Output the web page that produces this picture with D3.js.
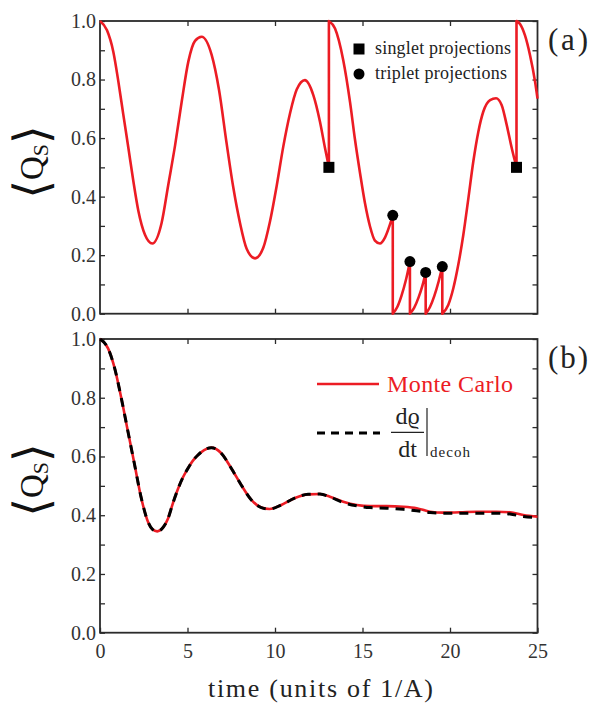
<!DOCTYPE html>
<html><head><meta charset="utf-8">
<script src="https://cdn.jsdelivr.net/npm/d3@7"></script>
<style>
html,body{margin:0;padding:0;background:#fff;}
svg text{font-family:"Liberation Serif","Times New Roman",serif;}
</style></head>
<body><svg id="c" width="592" height="703"></svg>
<script>
// ---------- data ----------
// (a) single quantum trajectory; a repeated time marks a projection jump
const topTime = [0,0.4,0.76,1.05,1.33,1.62,1.90,2.19,2.57,2.99,3.52,3.90,4.29,4.67,5.05,5.43,5.81,6.38,6.80,7.24,7.62,8.00,8.38,8.86,9.33,9.71,10.10,10.47,10.86,11.24,11.71,12.19,12.57,12.86,13.08,
  13.08,13.43,13.90,14.29,14.57,14.86,15.14,15.43,15.71,16.0,16.29,16.57,16.73,
  16.73,16.98,17.23,17.48,17.71,
  17.71,17.95,18.2,18.42,18.61,
  18.61,18.85,19.1,19.35,19.56,
  19.56,19.90,20.19,20.47,20.76,21.05,21.33,21.62,21.90,22.29,22.63,22.95,23.24,23.53,23.80,
  23.80,24.0,24.29,24.57,24.86,25.0];
const topQs = [1.0,0.968,0.895,0.793,0.681,0.567,0.455,0.352,0.270,0.240,0.310,0.440,0.575,0.725,0.862,0.932,0.946,0.884,0.765,0.580,0.430,0.310,0.222,0.189,0.225,0.314,0.438,0.570,0.685,0.766,0.798,0.747,0.656,0.565,0.500,
  1.0,0.974,0.866,0.722,0.595,0.480,0.378,0.298,0.250,0.240,0.261,0.305,0.336,
  0,0.022,0.062,0.115,0.178,
  0,0.02,0.055,0.095,0.141,
  0,0.022,0.06,0.11,0.161,
  0,0.030,0.087,0.166,0.269,0.394,0.519,0.622,0.690,0.730,0.736,0.713,0.645,0.565,0.500,
  1.0,0.990,0.950,0.884,0.793,0.735];
const singletTime = [13.08, 23.80];
const singletQs   = [0.5, 0.5];
const tripletTime = [16.73, 17.71, 18.61, 19.56];
const tripletQs   = [0.336, 0.178, 0.141, 0.161];

// (b) ensemble average
const botTime = [0,0.46,0.84,1.22,1.60,1.98,2.36,2.74,3.0,3.27,3.6,3.89,4.15,4.46,4.75,5.03,5.30,5.60,5.95,6.36,6.93,7.50,8.07,8.65,9.22,9.69,10.36,11.12,11.89,12.57,13.14,13.90,14.67,15.43,16.38,17.33,18.10,18.86,19.62,20.57,21.52,22.67,23.43,24.19,25.0];
const monteCarlo = [1.0,0.968,0.900,0.798,0.684,0.571,0.458,0.378,0.352,0.345,0.358,0.389,0.438,0.490,0.530,0.560,0.585,0.605,0.622,0.630,0.611,0.560,0.503,0.452,0.426,0.421,0.435,0.458,0.471,0.472,0.463,0.446,0.435,0.431,0.431,0.429,0.424,0.412,0.409,0.410,0.412,0.412,0.410,0.401,0.395];
const decoh = [1.0,0.968,0.900,0.798,0.684,0.571,0.458,0.378,0.352,0.345,0.358,0.389,0.438,0.490,0.530,0.560,0.585,0.605,0.622,0.630,0.611,0.560,0.503,0.452,0.426,0.421,0.435,0.458,0.471,0.472,0.462,0.443,0.432,0.426,0.424,0.420,0.415,0.409,0.407,0.407,0.407,0.407,0.404,0.396,0.392];

const yTicks = [0,0.1,0.2,0.3,0.4,0.5,0.6,0.7,0.8,0.9,1.0];
const xTicks = [0,5,10,15,20,25];

// ---------- drawing ----------
const RED = "#ec1c24", INK = "#2b2b2b";
const svg = d3.select("#c");
const x = d3.scaleLinear().domain([0,25]).range([100,537.5]);
const yA = d3.scaleLinear().domain([0,1]).range([313.7,21]);
const yB = d3.scaleLinear().domain([0,1]).range([632.7,339]);

function frame(y, showX){
  const g = svg.append("g");
  const lab = d => (Math.round(d*10)%2===0) ? d3.format(".1f")(d) : "";
  const l = g.append("g").attr("transform",`translate(${x(0)},0)`)
    .call(d3.axisLeft(y).tickValues(yTicks).tickSize(-5).tickPadding(4).tickFormat(lab));
  const r = g.append("g").attr("transform",`translate(${x(25)},0)`)
    .call(d3.axisRight(y).tickValues(yTicks).tickSize(-5).tickFormat(""));
  const t = g.append("g").attr("transform",`translate(0,${y(1)})`)
    .call(d3.axisTop(x).tickValues([5,10,15,20]).tickSize(-5).tickFormat(""));
  const b = g.append("g").attr("transform",`translate(0,${y(0)})`)
    .call(d3.axisBottom(x).tickValues(showX?xTicks:[5,10,15,20]).tickSize(-5).tickPadding(11).tickFormat(showX?d3.format("d"):""));
  [l,r,t,b].forEach(a=>{
    a.select(".domain").remove();
    a.selectAll("line").attr("stroke",INK).attr("stroke-width",1.3);
    a.selectAll("text").attr("fill","#333").style("font-family","'Liberation Serif',serif").style("font-size","20px");
  });
  g.append("rect").attr("x",x(0)).attr("y",y(1)).attr("width",x(25)-x(0)).attr("height",y(0)-y(1))
    .attr("fill","none").attr("stroke",INK).attr("stroke-width",1.8);
  return g;
}

function yLabel(cy){
  const t = svg.append("text").attr("transform",`translate(43,${cy}) rotate(-90)`)
    .attr("text-anchor","middle").attr("fill","#111");
  t.append("tspan").text("\u27E8").style("font-family","'DejaVu Sans'").style("font-size","48px").attr("dy","5");
  t.append("tspan").text("Q").style("font-size","33px").attr("dy","-5");
  t.append("tspan").text("S").style("font-size","22px").attr("dy","5");
  t.append("tspan").text("\u27E9").style("font-family","'DejaVu Sans'").style("font-size","48px").attr("dy","0");
}

// panel (a)
frame(yA,false);
const segs = [];
topTime.forEach((t,i)=>{
  if(i===0 || t===topTime[i-1]) segs.push([]);
  segs[segs.length-1].push([t, topQs[i]]);
});
const lineA = d3.line().x(d=>x(d[0])).y(d=>yA(d[1])).curve(d3.curveMonotoneX);
const dA = segs.map((s,i)=>{ const p=lineA(s); return i===0?p:"L"+p.slice(1); }).join("");
svg.append("path").attr("d",dA).attr("fill","none").attr("stroke",RED).attr("stroke-width",2.6).attr("stroke-linejoin","round");

svg.selectAll(".sq").data(singletTime).enter().append("rect")
  .attr("x",(d)=>x(d)-5.5).attr("y",(d,i)=>yA(singletQs[i])-5.5).attr("width",11).attr("height",11).attr("fill","#000");
svg.selectAll(".ci").data(tripletTime).enter().append("circle")
  .attr("cx",d=>x(d)).attr("cy",(d,i)=>yA(tripletQs[i])).attr("r",5.5).attr("fill","#000");

// legend (a)
svg.append("rect").attr("x",353.5).attr("y",43.5).attr("width",11).attr("height",11).attr("fill","#000");
svg.append("circle").attr("cx",359).attr("cy",74).attr("r",5.5).attr("fill","#000");
svg.append("text").attr("x",375).attr("y",54).text("singlet projections").style("font-size","18px").attr("fill","#222").attr("textLength",136);
svg.append("text").attr("x",375).attr("y",78.5).text("triplet projections").style("font-size","18px").attr("fill","#222").attr("textLength",132);

svg.append("text").attr("x",548).attr("y",50).text("(a)").style("font-size","31px").attr("fill","#222").attr("textLength",40);
yLabel(162);

// panel (b)
frame(yB,true);
const lineB = (arr)=> d3.line().x((d,i)=>x(botTime[i])).y(d=>yB(d)).curve(d3.curveMonotoneX)(arr);
svg.append("path").attr("d",lineB(monteCarlo)).attr("fill","none").attr("stroke",RED).attr("stroke-width",2.6);
svg.append("path").attr("d",lineB(decoh)).attr("fill","none").attr("stroke","#000").attr("stroke-width",3).attr("stroke-dasharray","9,7");

// legend (b)
svg.append("line").attr("x1",317).attr("x2",379).attr("y1",384).attr("y2",384).attr("stroke",RED).attr("stroke-width",2.6);
svg.append("text").attr("x",387).attr("y",392).text("Monte Carlo").style("font-size","24px").attr("fill",RED).attr("textLength",126);
svg.append("line").attr("x1",317).attr("x2",380).attr("y1",433).attr("y2",433).attr("stroke","#000").attr("stroke-width",3).attr("stroke-dasharray","8,6");
svg.append("text").attr("x",407.5).attr("y",424).attr("text-anchor","middle").text("d\u03F1").style("font-size","24px").attr("fill","#222");
svg.append("line").attr("x1",391).attr("x2",424).attr("y1",432.3).attr("y2",432.3).attr("stroke","#222").attr("stroke-width",1.2);
svg.append("text").attr("x",407.5).attr("y",456.5).attr("text-anchor","middle").text("dt").style("font-size","24px").attr("fill","#222");
svg.append("line").attr("x1",427).attr("x2",427).attr("y1",408).attr("y2",456).attr("stroke","#222").attr("stroke-width",1.2);
svg.append("text").attr("x",430).attr("y",457).text("decoh").style("font-size","15px").attr("fill","#222").attr("textLength",40);

svg.append("text").attr("x",548).attr("y",368).text("(b)").style("font-size","31px").attr("fill","#222").attr("textLength",40);
yLabel(480);

svg.append("text").attr("x",320.5).attr("y",697).attr("text-anchor","middle").text("time (units of 1/A)")
  .style("font-size","26px").attr("fill","#222").attr("textLength",225);
</script></body></html>
